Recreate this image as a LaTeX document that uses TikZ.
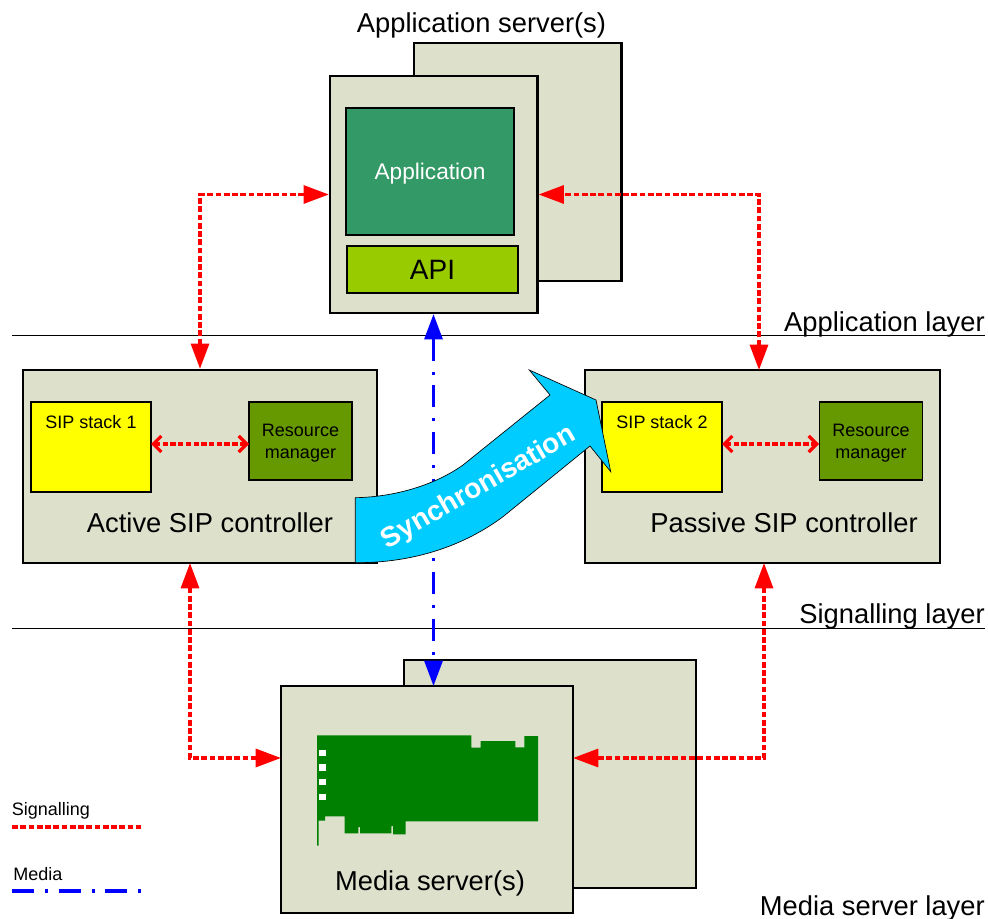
\documentclass[tikz,border=0pt]{standalone}
\usepackage{fontspec}
\setmainfont{Liberation Sans}
\usetikzlibrary{arrows.meta}
\definecolor{boxgrey}{HTML}{DDE1CC}
\definecolor{appgreen}{HTML}{339966}
\definecolor{apilime}{HTML}{99CC00}
\definecolor{resgreen}{HTML}{669900}
\definecolor{stackyellow}{HTML}{FFFF00}
\definecolor{syncblue}{HTML}{00CCFF}
\definecolor{cardgreen}{HTML}{008000}
\definecolor{sigred}{HTML}{FF0000}
\definecolor{medblue}{HTML}{0000FF}
\tikzset{
  server/.style={draw=black,fill=boxgrey,line width=1.7pt,minimum width=#1,inner sep=0pt},
  inner/.style={draw=black,line width=1pt,inner sep=0pt},
  stack/.style={inner,fill=stackyellow,minimum width=90pt,minimum height=67.5pt},
  resource/.style={inner,fill=resgreen,minimum width=77.25pt,minimum height=58.5pt},
  biglabel/.style={inner sep=0pt,font=\fontsize{20.5}{24}\selectfont},
  smalllabel/.style={inner sep=0pt,align=center,font=\fontsize{13.5}{16.5}\selectfont},
  layerline/.style={draw=black,line width=.6pt},
  signalling/.style={draw=sigred,line width=2.4pt,dash pattern=on 4.3pt off 1.9pt},
  signalarrow/.style={signalling,{Triangle[length=19pt,width=13.5pt]}-{Triangle[length=19pt,width=13.5pt]}},
  localarrow/.style={draw=sigred,line width=2.4pt,dash pattern=on 4pt off 1.8pt,
    {Straight Barb[length=6pt,width=12pt,line width=2.4pt]}-{Straight Barb[length=6pt,width=12pt,line width=2.4pt]}},
  media/.style={draw=medblue,line width=2.4pt,dash pattern=on 16.5pt off 8.2pt on 2.4pt off 7.9pt},
  mediaarrow/.style={media,{Triangle[length=19pt,width=13.5pt]}-{Triangle[length=19pt,width=13.5pt]}},
}
\begin{document}
\begin{tikzpicture}[x=.75pt,y=-.75pt]
  \useasboundingbox (0,0) rectangle (988,919);
  % layer separators
  \coordinate (L1a) at (12,335);
  \coordinate (L1b) at (985,335);
  \coordinate (L2a) at (12,628);
  \coordinate (L2b) at (985,628);
  \draw[layerline] (L1a) -- (L1b);
  \draw[layerline] (L2a) -- (L2b);
  \node[biglabel,anchor=east] (applayer) at (985,324) {Application layer};
  \node[biglabel,anchor=east] (siglayer) at (985,616) {Signalling layer};
  \node[biglabel,anchor=east] (medlayer) at (985,908) {Media server layer};

  % application servers
  \node[biglabel] (apptitle) at (481.5,25) {Application server(s)};
  \node[server=155.6pt,minimum height=178.5pt] (appback) at (517.75,162) {};
  \node[server=155.6pt,minimum height=177.75pt] (appfront) at (433.75,194.5) {};
  \node[inner,fill=appgreen,minimum width=126pt,minimum height=95.25pt] (application) at (430,171.5) {};
  \node[inner sep=0pt,text=white,font=\fontsize{17}{20}\selectfont] (apptxt) at (430,173.5) {Application};
  \node[inner,fill=apilime,minimum width=128.25pt,minimum height=35.25pt,
    font=\fontsize{21}{25}\selectfont] (api) at (432.5,269.5) {API};

  % SIP controllers
  \node[server=265.5pt,minimum height=144.75pt] (active) at (200,466.5) {};
  \node[server=266.25pt,minimum height=144.75pt] (passive) at (762.5,466.5) {};
  \node[stack] (stack1) at (91,447) {};
  \node[stack] (stack2) at (662,447) {};
  \node[smalllabel] (stack1txt) at (91,422) {SIP stack 1};
  \node[smalllabel] (stack2txt) at (662,422) {SIP stack 2};
  \node[resource] (res1) at (300.5,441) {};
  \node[resource] (res2) at (871,441) {};
  \node[smalllabel] (res1txt) at (300.5,443) {Resource\\manager};
  \node[smalllabel] (res2txt) at (871,443) {Resource\\manager};
  \node[biglabel] (activetxt) at (210,523) {Active SIP controller};
  \node[biglabel] (passivetxt) at (784,523) {Passive SIP controller};
  \coordinate (stack1mid) at (151,444);
  \coordinate (stack2mid) at (722,444);
  \coordinate (res1mid) at (249,444);
  \coordinate (res2mid) at (819,444);
  \draw[localarrow] (stack1mid) -- (res1mid);
  \draw[localarrow] (stack2mid) -- (res2mid);

  % media servers
  \node[server=219pt,minimum height=171pt] (medback) at (550,774) {};
  \node[server=219pt,minimum height=170.25pt] (medfront) at (427,799.5) {};
  \node[biglabel] (medtxt) at (430,883) {Media server(s)};

  % the card
  \fill[cardgreen] (317,735.3) -- (471.3,735.3) -- (471.3,747.7) -- (480.7,747.7) -- (480.7,741)
    -- (515.3,741) -- (515.3,747.3) -- (524.3,747.3) -- (524.3,736) -- (538,736) -- (538,821.3)
    -- (405.7,821.3) -- (405.7,834.3) -- (393,834.3) -- (393,826) -- (391.3,826) -- (391.3,833.3)
    -- (360,833.3) -- (360,827) -- (358.3,827) -- (358.3,833.3) -- (344.7,833.3) -- (344.7,816.3)
    -- (325,816.3) -- (325,820.7) -- (318.7,820.7) -- (318.7,845.7) -- (317,845.7) -- cycle;
  \foreach \y in {749.5,764,778.5,793.5}
    \fill[white] (318.7,\y) rectangle (326.3,\y+6.5);

  % signalling
  \coordinate (passivetop) at (759,370);
  \coordinate (activebot) at (190,563);
  \coordinate (passivebot) at (764,563);
  \coordinate (medwest) at (281,758);
  \coordinate (medeast) at (573,758);
  \draw[signalarrow] (active.north) |- (appfront.west);
  \draw[signalarrow] (passivetop) |- (appfront.east);
  \draw[signalarrow] (activebot) |- (medwest);
  \draw[signalarrow] (passivebot) |- (medeast);

  % media
  \coordinate (medtop) at (433.5,686);
  \draw[mediaarrow] (appfront.south -| medtop) -- (medtop);

  % synchronisation arrow
  \draw[fill=syncblue,draw=black,line width=.5pt] (355.3,497.7)
    .. controls (395,497) and (435,485) .. (463,465) -- (550,395) -- (529.3,370) -- (596,400)
    -- (610.7,471.7) -- (590,446) -- (503,516.7)
    .. controls (465,545) and (415,563) .. (355.3,562.7) -- cycle;
  \node[rotate=30,text=white,inner sep=0pt,font=\fontsize{21}{25}\selectfont\bfseries] (synctxt)
    at (479,488) {Synchronisation};

  % legend
  \node[smalllabel,anchor=west] (sigkey) at (11.5,811) {Signalling};
  \node[smalllabel,anchor=west] (medkey) at (13,874) {Media};
  \coordinate (sigkeya) at (12,827);
  \coordinate (sigkeyb) at (141,827);
  \coordinate (medkeya) at (12,891);
  \coordinate (medkeyb) at (141,891);
  \draw[signalling] (sigkeya) -- (sigkeyb);
  \draw[media] (medkeya) -- (medkeyb);
\end{tikzpicture}
\end{document}
